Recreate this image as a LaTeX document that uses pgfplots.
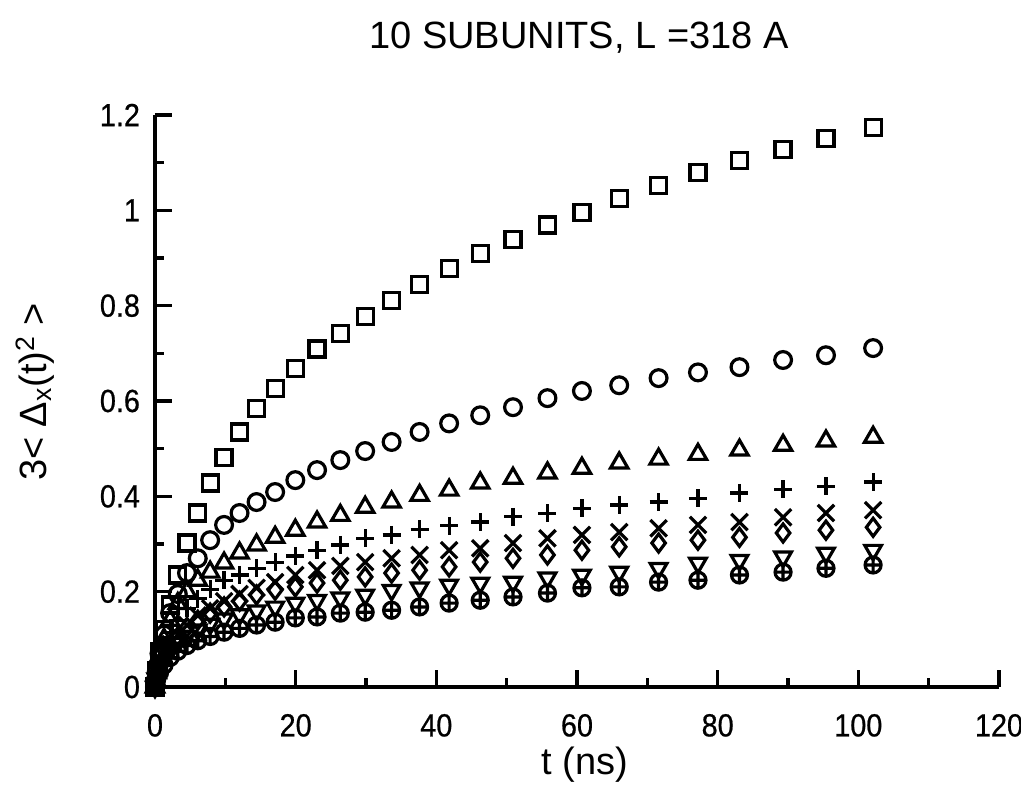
\documentclass[border=0pt]{standalone}
\usepackage{fontspec}
\setmainfont{Liberation Sans}
\newfontfamily\tickfont{Liberation Sans}[FakeStretch=0.9, FakeBold=0.6]
\usepackage{pgfplots}
\pgfplotsset{compat=1.18}
\usepackage{pgfplotstable}

\pgfplotstableread{
t sq ci tr pl cr di dt op
0.00 0.000 0.000 0.000 0.000 0.000 0.000 0.000 0.000
0.22 0.035 0.030 0.030 0.025 0.020 0.020 0.017 0.014
0.64 0.075 0.070 0.065 0.055 0.045 0.040 0.036 0.030
1.28 0.120 0.110 0.100 0.085 0.065 0.062 0.055 0.046
2.15 0.172 0.155 0.140 0.115 0.090 0.085 0.075 0.062
3.24 0.235 0.195 0.175 0.140 0.110 0.105 0.092 0.075
4.55 0.302 0.239 0.200 0.165 0.130 0.125 0.107 0.087
6.08 0.365 0.270 0.224 0.185 0.150 0.140 0.120 0.097
7.84 0.428 0.308 0.241 0.205 0.165 0.155 0.132 0.106
9.82 0.482 0.340 0.260 0.224 0.180 0.168 0.143 0.115
12.02 0.535 0.365 0.281 0.235 0.195 0.180 0.152 0.123
14.44 0.585 0.388 0.298 0.249 0.208 0.193 0.160 0.130
17.08 0.627 0.409 0.314 0.262 0.220 0.203 0.168 0.136
19.95 0.669 0.434 0.329 0.275 0.235 0.210 0.176 0.145
23.04 0.709 0.455 0.346 0.287 0.245 0.218 0.182 0.147
26.35 0.742 0.476 0.360 0.298 0.254 0.224 0.187 0.155
29.88 0.778 0.495 0.377 0.312 0.262 0.231 0.193 0.157
33.64 0.811 0.514 0.388 0.319 0.270 0.239 0.203 0.161
37.62 0.845 0.535 0.402 0.331 0.277 0.245 0.208 0.168
41.82 0.878 0.553 0.413 0.338 0.287 0.252 0.214 0.176
46.24 0.910 0.570 0.428 0.346 0.291 0.262 0.218 0.182
50.90 0.939 0.587 0.438 0.357 0.302 0.270 0.220 0.189
55.80 0.969 0.606 0.449 0.364 0.312 0.277 0.229 0.197
60.70 0.996 0.621 0.459 0.375 0.319 0.287 0.235 0.208
66.00 1.025 0.633 0.470 0.382 0.325 0.294 0.241 0.210
71.60 1.052 0.648 0.478 0.388 0.333 0.302 0.249 0.220
77.20 1.080 0.660 0.488 0.396 0.340 0.308 0.260 0.224
83.10 1.105 0.671 0.497 0.407 0.346 0.314 0.266 0.235
89.30 1.128 0.686 0.507 0.415 0.356 0.323 0.273 0.241
95.40 1.151 0.696 0.516 0.421 0.365 0.329 0.281 0.249
102.10 1.174 0.711 0.524 0.430 0.371 0.335 0.287 0.256
}\datatable

\begin{document}
\begin{tikzpicture}
\begin{axis}[
  name=ax,
  scale only axis,
  width=422pt, height=286pt,
  xmin=0, xmax=120, ymin=0, ymax=1.2,
  axis x line=bottom, axis y line=left,
  axis line style={-, line width=1.6pt},
  xtick={0,20,...,120}, minor xtick={10,30,...,110},
  ytick={0,0.2,...,1.21}, minor ytick={0.1,0.3,...,1.11},
  yticklabels={0,0.2,0.4,0.6,0.8,1,1.2},
  tick align=inside,
  major tick length=8.5pt, minor tick length=4.5pt,
  tick style={black, line width=1.6pt},
  tick label style={font=\tickfont\fontsize{16}{18}\selectfont},
  /pgf/number format/assume math mode=true,
  xticklabel style={yshift=-10pt},
  yticklabel style={xshift=-4pt},
  clip=false,
  every axis plot/.append style={only marks, black, mark options={line width=1.6pt, fill=none, solid}},
]
\addplot[mark=square, mark size=4pt] table[x=t, y=sq] {\datatable};
\addplot[mark=o, mark size=4.2pt] table[x=t, y=ci] {\datatable};
\addplot[mark=triangle, mark size=5pt] table[x=t, y=tr] {\datatable};
\addplot[mark=+, mark size=4.5pt] table[x=t, y=pl] {\datatable};
\addplot[mark=x, mark size=5.8pt] table[x=t, y=cr] {\datatable};
\addplot[mark=diamond, mark size=4.5pt] table[x=t, y=di] {\datatable};
\addplot[mark=triangle, mark size=4.8pt, mark options={rotate=180, line width=1.6pt}] table[x=t, y=dt] {\datatable};
\addplot[mark=oplus, mark size=4pt] table[x=t, y=op] {\datatable};
\end{axis}
\node[font=\fontsize{19}{22}\selectfont] at ([shift={(212pt,324.5pt)}]ax.south west) {10 SUBUNITS, L =318 A};
\node[font=\fontsize{19}{22}\selectfont] at ([shift={(215pt,-39pt)}]ax.south west) {t (ns)};
\node[rotate=90, font=\fontsize{19}{22}\selectfont] at ([shift={(-60pt,147.5pt)}]ax.south west) {3< Δ\textsubscript{x}(t)\textsuperscript{2} >};
\pgfresetboundingbox
\path ([shift={(-77.5pt,-49pt)}]ax.south west) rectangle ([shift={(433pt,343.5pt)}]ax.south west);
\end{tikzpicture}
\end{document}
